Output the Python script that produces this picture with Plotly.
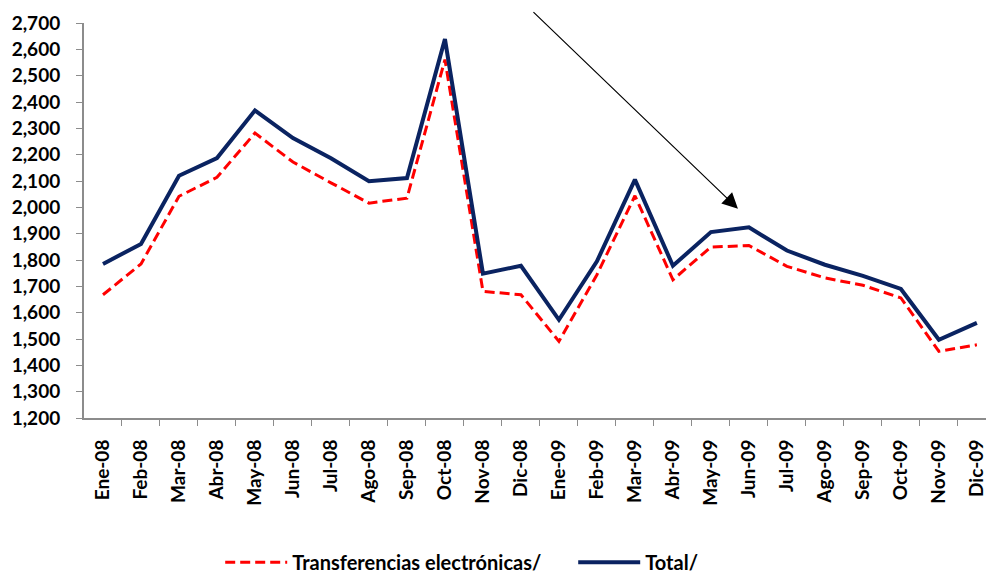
import plotly.graph_objects as go

# Monthly series, 2008-2009
months = ["Ene-08", "Feb-08", "Mar-08", "Abr-08", "May-08", "Jun-08",
          "Jul-08", "Ago-08", "Sep-08", "Oct-08", "Nov-08", "Dic-08",
          "Ene-09", "Feb-09", "Mar-09", "Abr-09", "May-09", "Jun-09",
          "Jul-09", "Ago-09", "Sep-09", "Oct-09", "Nov-09", "Dic-09"]

transferencias = [1668, 1785, 2042, 2114, 2282, 2172, 2093, 2016, 2035, 2561, 1681, 1668,
                  1491, 1744, 2044, 1725, 1849, 1855, 1776, 1732, 1704, 1656, 1453, 1478]

total = [1785, 1861, 2120, 2187, 2368, 2263, 2186, 2099, 2111, 2639, 1748, 1778,
         1573, 1795, 2105, 1778, 1906, 1924, 1836, 1782, 1740, 1690, 1497, 1561]

y_ticks = list(range(1200, 2701, 100))

FONT = "Lato"
AXIS_GREY = "#8c8c8c"

positions = list(range(len(months)))
boundaries = [p + 0.5 for p in positions]

fig = go.Figure()

fig.add_trace(go.Scatter(
    x=positions, y=transferencias, mode="lines",
    name="Transferencias electrónicas/",
    line=dict(color="#ff0000", width=3, dash="10px,5px"),
))
fig.add_trace(go.Scatter(
    x=positions, y=total, mode="lines",
    name="Total/",
    line=dict(color="#0a2361", width=4),
))

# Arrow pointing down toward mid-2009
fig.add_annotation(
    xref="paper", yref="paper", x=0.725, y=0.53,
    axref="pixel", ayref="pixel", ax=-206, ay=-198,
    showarrow=True, arrowhead=2, arrowsize=2.6, arrowwidth=1.2,
    arrowcolor="#000000", text="",
)

fig.update_layout(
    width=986, height=575,
    margin=dict(l=84, r=0, t=23, b=157),
    paper_bgcolor="white", plot_bgcolor="white",
    font=dict(family=FONT, size=18, color="#000000"),
    showlegend=True,
    legend=dict(
        orientation="h", x=0.151, xanchor="left",
        yref="container", y=0.022, yanchor="middle",
        font=dict(family=FONT, size=20, color="#000000", weight="bold"),
        entrywidth=276, entrywidthmode="pixels",
        itemwidth=62, borderwidth=0,
    ),
)

fig.update_xaxes(
    tickmode="array", tickvals=positions, ticktext=months,
    range=[-0.5, 23.24],
    tickangle=-90,
    ticks="", ticklen=0,
    minor=dict(tickmode="array", tickvals=boundaries, ticks="outside",
               ticklen=6, tickcolor=AXIS_GREY, showgrid=False),
    showline=True, linecolor=AXIS_GREY, linewidth=2,
    showgrid=False, zeroline=False,
    tickfont=dict(family=FONT, size=19, weight="bold"),
    ticklabelstandoff=12, ticklabeloverflow="allow",
    automargin=False,
)

fig.update_yaxes(
    range=[1200, 2700], tickmode="array", tickvals=y_ticks,
    ticktext=[f"{v:,}" for v in y_ticks],
    ticks="outside", ticklen=6, tickcolor=AXIS_GREY,
    showline=True, linecolor=AXIS_GREY, linewidth=2,
    showgrid=False, zeroline=False,
    tickfont=dict(family=FONT, size=19, weight="bold"),
    ticklabelstandoff=12, automargin=False,
)

fig.write_html("out.html")
